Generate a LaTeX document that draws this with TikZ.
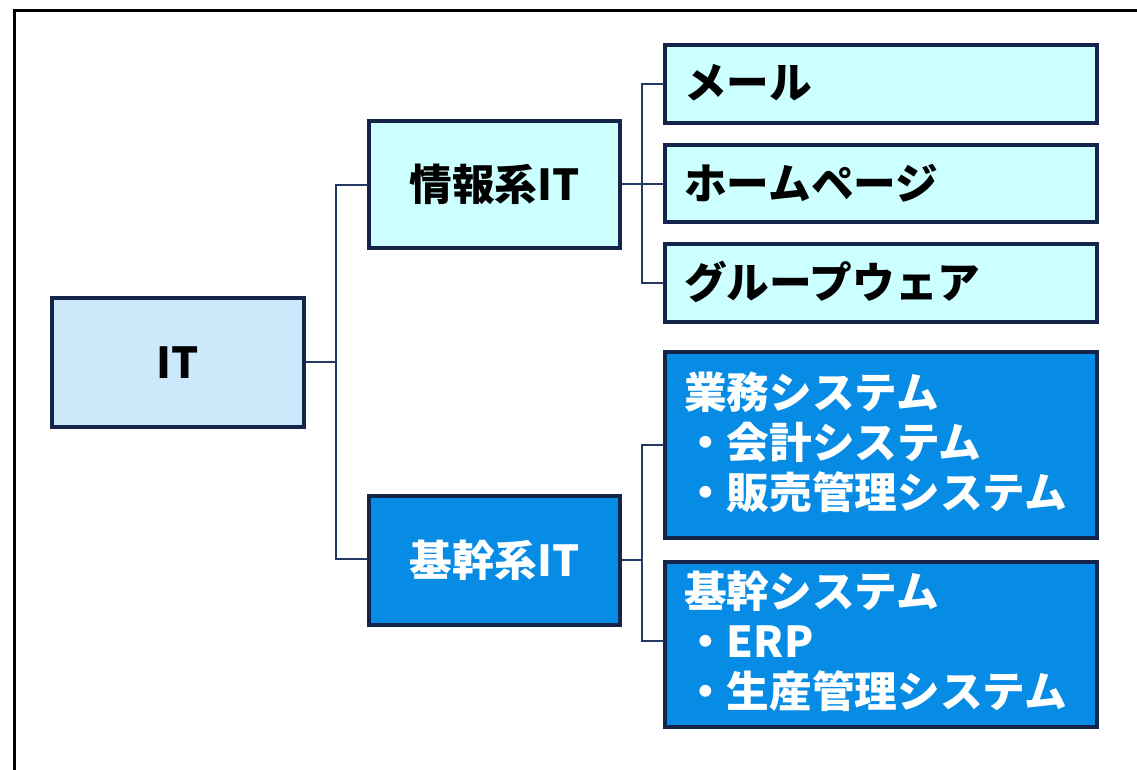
\documentclass[tikz,border=0pt]{standalone}
\usepackage{fontspec}
\newfontfamily\jp{Noto Sans CJK JP}
\definecolor{navy}{HTML}{14244A}
\definecolor{linec}{HTML}{243A66}
\definecolor{cyanf}{HTML}{CCFFFF}
\definecolor{itf}{HTML}{CCE9FB}
\definecolor{bluef}{HTML}{078CE5}
\tikzset{
  px/.style={x=0.75pt,y=-0.75pt},
  box/.style={draw=navy,line width=3.2pt,inner sep=0pt,outer sep=0pt},
  lbl/.style={font=\jp\bfseries\fontsize{32pt}{37.5pt}\selectfont,inner sep=0pt,align=left},
  conn/.style={draw=linec,line width=1.5pt},
}
\begin{document}
\begin{tikzpicture}[px]
\useasboundingbox (0,0) rectangle (1137,769);
\draw[black,line width=2.3pt] (14.5,780) -- (14.5,10.5) -- (1150,10.5);
% boxes
\draw[box,fill=itf] (52,298) rectangle (304,427);
\node[lbl] (it) at (178,362.5) {IT};
\draw[box,fill=cyanf] (369,121) rectangle (620,248);
\node[lbl] (joho) at (494.5,184.5) {情報系IT};
\draw[box,fill=bluef] (369,496) rectangle (620,625);
\node[lbl,text=white] (kikan) at (494.5,560.5) {基幹系IT};
\draw[box,fill=cyanf] (665,45) rectangle (1097,123);
\node[lbl,anchor=west] (mail) at (684,83) {メール};
\draw[box,fill=cyanf] (665,145) rectangle (1097,222);
\node[lbl,anchor=west] (hp) at (684,183) {ホームページ};
\draw[box,fill=cyanf] (665,244) rectangle (1097,322);
\node[lbl,anchor=west] (gw) at (684,282) {グループウェア};
\draw[box,fill=bluef] (665,352) rectangle (1097,538);
\node[lbl,anchor=west,text=white] (gyomu) at (684,442) {業務システム\\・会計システム\\・販売管理システム};
\draw[box,fill=bluef] (665,562) rectangle (1097,727);
\node[lbl,anchor=west,text=white] (kikansys) at (684,641) {基幹システム\\・ERP\\・生産管理システム};
% coordinates
\coordinate (itR) at (305.5,362);
\coordinate (jL) at (367.5,185);
\coordinate (kL) at (367.5,559);
\coordinate (jR) at (621.5,184);
\coordinate (kR) at (621.5,560);
\coordinate (mL) at (663.5,84);
\coordinate (hL) at (663.5,184);
\coordinate (gL) at (663.5,283);
\coordinate (bL) at (663.5,445);
\coordinate (sL) at (663.5,641);
% connectors
\draw[conn] (itR) -- (336,362);
\draw[conn] (jL) -- (336,185) -- (336,559) -- (kL);
\draw[conn] (jR) -- (hL);
\draw[conn] (mL) -- (642,84) -- (642,283) -- (gL);
\draw[conn] (kR) -- (642,560);
\draw[conn] (bL) -- (642,445) -- (642,641) -- (sL);
\end{tikzpicture}
\end{document}
